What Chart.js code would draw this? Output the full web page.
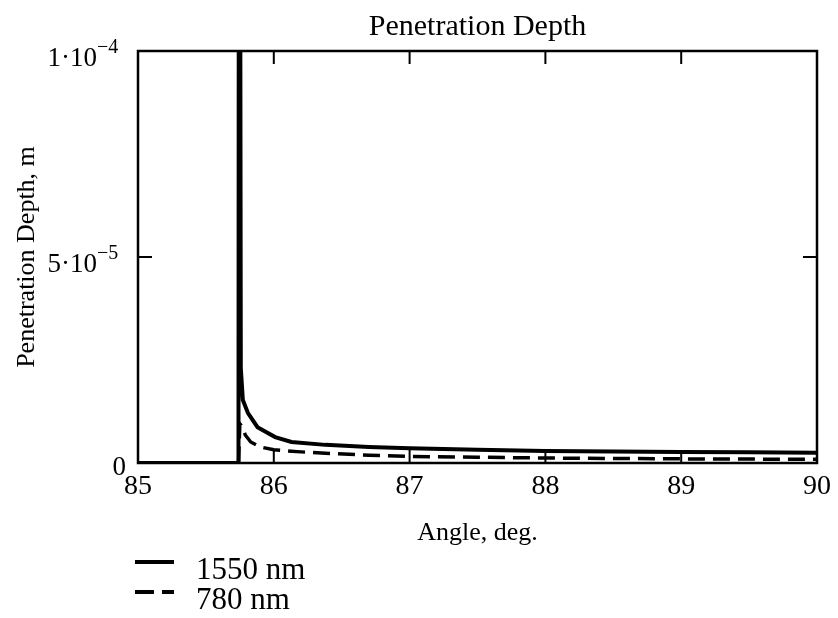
<!DOCTYPE html>
<html>
<head>
<meta charset="utf-8">
<title>Penetration Depth</title>
<script src="https://cdn.jsdelivr.net/npm/chart.js@4.4.1/dist/chart.umd.min.js"></script>
<style>
  html, body { margin: 0; padding: 0; background: #ffffff; }
  #wrap { width: 838px; height: 618px; position: relative; }
</style>
</head>
<body>
<div id="wrap"><canvas id="depthChart"></canvas></div>
<script>
const SERIF = "\"Liberation Serif\", \"Times New Roman\", serif";

// angle in degrees, penetration depth in metres
const angles1550 = [85.0, 85.74, 85.745, 85.757, 85.772, 85.81, 85.88, 86.01, 86.13, 86.38, 86.7, 87.0, 87.5, 88.0, 88.5, 89.0, 89.5, 90.0];
const depth1550 = [0, 0, 3.0e-4, 2.3e-5, 1.53e-5, 1.21e-5, 0.87e-5, 0.63e-5, 0.51e-5, 0.44e-5, 0.39e-5, 0.36e-5, 0.32e-5, 0.29e-5, 0.28e-5, 0.27e-5, 0.26e-5, 0.25e-5];

const angles780 = [85.0, 85.74, 85.75, 85.77, 85.79, 85.83, 85.9, 86.0, 86.2, 86.35, 86.7, 87.0, 87.5, 88.0, 88.5, 89.0, 89.5, 90.0];
const depth780 = [0, 0, 0.95e-5, 0.87e-5, 0.68e-5, 0.51e-5, 0.39e-5, 0.32e-5, 0.27e-5, 0.24e-5, 0.19e-5, 0.16e-5, 0.14e-5, 0.12e-5, 0.11e-5, 0.10e-5, 0.095e-5, 0.09e-5];

const seriesLabels = ["1550 nm", "780 nm"];
const xTicks = [85, 86, 87, 88, 89, 90];
const yTicks = [0, 5e-5, 1e-4];

function toPoints(xs, ys) {
  return xs.map((x, i) => ({ x: x, y: ys[i] }));
}

// box frame, inward tick marks, y labels with exponents, and the legend
Chart.register({
  id: "mathcadFrame",
  afterDraw(chart) {
    const ctx = chart.ctx;
    const area = chart.chartArea;
    const xs = chart.scales.x;
    const ys = chart.scales.y;

    ctx.save();
    ctx.strokeStyle = "#000000";
    ctx.lineWidth = 2.5;
    ctx.strokeRect(area.left, area.top, area.right - area.left, area.bottom - area.top);

    ctx.lineWidth = 2;
    ctx.beginPath();
    xTicks.forEach((v) => {
      if (v === xs.min || v === xs.max) return;
      const px = xs.getPixelForValue(v);
      ctx.moveTo(px, area.bottom);
      ctx.lineTo(px, area.bottom - 13);
      ctx.moveTo(px, area.top);
      ctx.lineTo(px, area.top + 13);
    });
    yTicks.forEach((v) => {
      if (v === ys.min || v === ys.max) return;
      const py = ys.getPixelForValue(v);
      ctx.moveTo(area.left, py);
      ctx.lineTo(area.left + 14, py);
      ctx.moveTo(area.right, py);
      ctx.lineTo(area.right - 14, py);
    });
    ctx.stroke();

    // y tick labels, mantissa·10 with a raised exponent
    ctx.fillStyle = "#000000";
    ctx.textBaseline = "middle";
    yTicks.forEach((v) => {
      const py = ys.getPixelForValue(v);
      if (v === 0) {
        ctx.font = `27px ${SERIF}`;
        ctx.textAlign = "right";
        ctx.fillText("0", area.left - 12, py + 5);
        return;
      }
      const exp = Math.floor(Math.log10(v) + 1e-9);
      const mant = Math.round(v / Math.pow(10, exp));
      ctx.font = `27px ${SERIF}`;
      ctx.textAlign = "right";
      ctx.fillText(`${mant}·10`, area.left - 41, py + 8);
      ctx.font = `20px ${SERIF}`;
      ctx.textAlign = "left";
      ctx.fillText(`\u2212${-exp}`, area.left - 41, py - 3);
    });

    // legend below the x axis title
    const dashes = [[], [19, 8]];
    chart.data.datasets.forEach((ds, i) => {
      const ly = 562 + i * 30;
      ctx.beginPath();
      ctx.setLineDash(dashes[i]);
      ctx.lineWidth = 4;
      ctx.moveTo(135, ly);
      ctx.lineTo(174, ly);
      ctx.stroke();
      ctx.setLineDash([]);
      ctx.font = `31px ${SERIF}`;
      ctx.textAlign = "left";
      ctx.textBaseline = "alphabetic";
      ctx.fillText(seriesLabels[i], 196, ly + 17);
      ctx.textBaseline = "middle";
    });
    ctx.restore();
  }
});

new Chart(document.getElementById("depthChart"), {
  type: "line",
  data: {
    datasets: [
      {
        label: seriesLabels[0],
        data: toPoints(angles1550, depth1550),
        borderColor: "#000000",
        borderWidth: 4,
        pointRadius: 0,
        tension: 0
      },
      {
        label: seriesLabels[1],
        data: toPoints(angles780, depth780),
        borderColor: "#000000",
        borderWidth: 3.5,
        borderDash: [17, 8],
        pointRadius: 0,
        tension: 0
      }
    ]
  },
  options: {
    responsive: true,
    maintainAspectRatio: false,
    animation: false,
    layout: {
      padding: { top: 0, right: 20, bottom: 0, left: 0 }
    },
    plugins: {
      legend: { display: false },
      tooltip: { enabled: false },
      title: {
        display: true,
        fullSize: false,
        text: "Penetration Depth",
        color: "#000000",
        font: { family: SERIF, size: 30, weight: "normal" },
        padding: { top: 9, bottom: 6 }
      }
    },
    scales: {
      x: {
        type: "linear",
        min: 85,
        max: 90,
        afterFit: (scale) => { scale.height = 155; },
        afterBuildTicks: (scale) => { scale.ticks = xTicks.map((v) => ({ value: v })); },
        grid: { display: false, drawTicks: false },
        border: { display: false },
        ticks: {
          autoSkip: false,
          maxRotation: 0,
          padding: 7,
          color: "#000000",
          font: { family: SERIF, size: 28 }
        },
        title: {
          display: true,
          text: "Angle, deg.",
          color: "#000000",
          font: { family: SERIF, size: 26 },
          padding: { top: 0, bottom: 69 }
        }
      },
      y: {
        min: 0,
        max: 1e-4,
        afterFit: (scale) => { scale.width = 138; },
        afterBuildTicks: (scale) => { scale.ticks = yTicks.map((v) => ({ value: v })); },
        grid: { display: false, drawTicks: false },
        border: { display: false },
        ticks: { display: false },
        title: {
          display: true,
          text: "Penetration Depth, m",
          color: "#000000",
          font: { family: SERIF, size: 26 },
          padding: { top: 12, bottom: 0 }
        }
      }
    }
  }
});
</script>
</body>
</html>
